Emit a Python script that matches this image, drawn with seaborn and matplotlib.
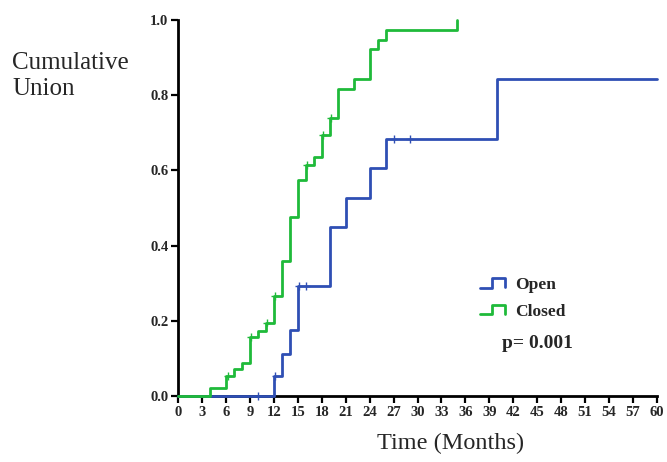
import numpy as np
import pandas as pd
import matplotlib
matplotlib.use("Agg")
import matplotlib.pyplot as plt
import seaborn as sns
from matplotlib.legend_handler import HandlerBase
from matplotlib.lines import Line2D

# Kaplan-Meier style cumulative union curves
open_time = [0, 12, 13, 14, 15, 19, 21, 24, 26, 40, 60]
open_union = [0.0, 0.053, 0.112, 0.174, 0.293, 0.449, 0.527, 0.606, 0.684, 0.843, 0.843]
closed_time = [0, 4, 6, 7, 8, 9, 10, 11, 12, 13, 14, 15, 16, 17, 18, 19, 20, 22, 24, 25, 26, 35]
closed_union = [0.0, 0.021, 0.053, 0.072, 0.088, 0.157, 0.173, 0.195, 0.266, 0.36, 0.477,
                0.574, 0.614, 0.635, 0.694, 0.739, 0.816, 0.843, 0.923, 0.947, 0.973, 1.0]

# censored observations
open_cens_time = [10, 12.2, 15.1, 16, 27, 29]
open_cens_union = [0.0, 0.053, 0.293, 0.293, 0.684, 0.684]
closed_cens_time = [6.2, 9.1, 11.1, 12.1, 16.1, 18.1, 19.1]
closed_cens_union = [0.053, 0.157, 0.195, 0.266, 0.614, 0.694, 0.739]

groups = ['Open', 'Closed']
colors = {'Open': '#2f4fb4', 'Closed': '#1fba3a'}
x_ticks = list(range(0, 61, 3))
y_ticks = [0.0, 0.2, 0.4, 0.6, 0.8, 1.0]


class StepHandler(HandlerBase):
    # legend glyph drawn as a little step
    def create_artists(self, legend, orig_handle, xdescent, ydescent, width, height, fontsize, trans):
        xs = np.array([0, 0.5, 0.5, 1.0, 1.0]) * width - xdescent
        ys = np.array([0.1, 0.1, 0.9, 0.9, 0.15]) * height - ydescent
        line = Line2D(xs, ys, color=orig_handle.get_color(), lw=2)
        line.set_transform(trans)
        return [line]


curves = pd.concat([
    pd.DataFrame({'time': open_time, 'union': open_union, 'group': 'Open'}),
    pd.DataFrame({'time': closed_time, 'union': closed_union, 'group': 'Closed'}),
])
cens = pd.concat([
    pd.DataFrame({'time': open_cens_time, 'union': open_cens_union, 'group': 'Open'}),
    pd.DataFrame({'time': closed_cens_time, 'union': closed_cens_union, 'group': 'Closed'}),
])

sns.set_style("ticks")
plt.rcParams['font.family'] = ['Liberation Serif', 'DejaVu Serif']

fig = plt.figure(figsize=(6.67, 4.62), dpi=100)
ax = fig.add_axes([0.267, 0.143, 0.718, 0.814])

sns.lineplot(data=curves, x='time', y='union', hue='group', hue_order=groups,
             palette=colors, estimator=None, sort=False, drawstyle='steps-post',
             linewidth=2, legend=False, ax=ax, clip_on=False, zorder=3)
sns.scatterplot(data=cens, x='time', y='union', hue='group', hue_order=groups,
                palette=colors, marker='+', s=30, linewidth=1.0, legend=False,
                ax=ax, clip_on=False, zorder=4)

ax.set_xlim(0, 60)
ax.set_ylim(0, 1.0)
ax.set_xticks(x_ticks)
ax.set_yticks(y_ticks)
ax.set_yticklabels([f"{v:.1f}" for v in y_ticks])
ax.set_xlabel('')
ax.set_ylabel('')
sns.despine(ax=ax)
for s in ['left', 'bottom']:
    ax.spines[s].set_linewidth(2)
    ax.spines[s].set_color('black')
ax.tick_params(axis='both', direction='out', length=5, width=1.6, color='black',
               labelsize=10.5, pad=2)
for lab in ax.get_xticklabels() + ax.get_yticklabels():
    lab.set_fontweight('bold')

fig.text(0.018, 0.835, 'Cumulative\nUnion', fontsize=18, ha='left', va='center',
         linespacing=1.25)
fig.text(0.675, 0.04, 'Time (Months)', fontsize=17.5, ha='center', va='center')

handles = [Line2D([], [], color=colors[g]) for g in groups]
ax.legend(handles, groups, handler_map={Line2D: StepHandler()}, frameon=False,
          loc='center left', bbox_to_anchor=(0.597, 0.26), handlelength=1.45,
          handletextpad=0.6, labelspacing=0.6,
          prop={'family': 'Liberation Serif', 'weight': 'bold', 'size': 12.5})
fig.text(0.752, 0.257, 'p= 0.001', fontsize=14, fontweight='bold', ha='left', va='center')

fig.savefig('out.png', dpi=100)
